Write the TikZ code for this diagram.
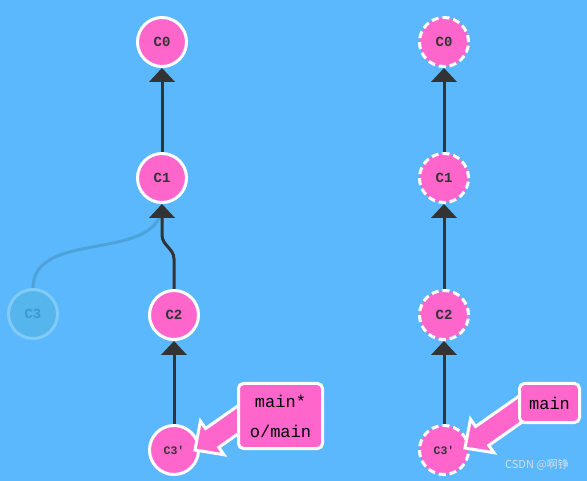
\documentclass[tikz,border=0pt]{standalone}
\usepackage{fontspec}
\setmonofont{Liberation Mono}
\newfontfamily\cjkfont{Noto Sans CJK SC}
\usetikzlibrary{arrows.meta,calc}
\definecolor{sky}      {HTML}{5BB8FC}
\definecolor{ink}      {HTML}{333333}
\definecolor{rose}     {HTML}{FF66CC}
\definecolor{ghostfill}{HTML}{55B5EC}
\definecolor{ghostline}{HTML}{80CBF8}
\definecolor{ghosttext}{HTML}{3E98CE}
\definecolor{ghostedge}{HTML}{4EA2DA}
\definecolor{mark}     {HTML}{D6DEE8}
\pgfdeclarelayer{background}
\pgfdeclarelayer{edges}
\pgfdeclarelayer{front}
\pgfsetlayers{background,edges,main,front}
\tikzset{
  x=1pt, y=1pt,
  % --- nodes
  commit/.style = {circle, draw=white, line width=3pt, fill=rose, minimum size=49pt,
                   inner sep=0pt, text=ink, font=\ttfamily\bfseries\fontsize{14}{14}\selectfont},
  tip/.style    = {commit, font=\ttfamily\bfseries\fontsize{11.5}{12}\selectfont},
  ghost/.style  = {commit, fill=ghostfill, draw=ghostline, text=ghosttext},
  remote/.style = {dash pattern=on 7pt off 4pt},
  branch/.style = {rounded corners=5pt, draw=white, line width=3pt, fill=rose, align=center,
                   inner sep=0pt, text=black, font=\ttfamily\fontsize{17}{30}\selectfont},
  % --- edges
  e/.style      = {draw=ink, line width=3pt, -{Triangle[length=14pt,width=26pt,line width=0pt]}},
  eghost/.style = {draw=ghostedge, line width=3pt},
  fat/.style    = {draw=white, fill=rose, line width=3pt},
}
% fat pointer from a branch label (#1) to its commit (#2)
\newcommand\fatarrow[2]{%
  \draw[fat] let \p1=($(#1)-(#2)$), \n1={atan2(\y1,\x1)} in
    (#2) -- ($(#2)+(\n1:21pt)+(\n1+90:20.5pt)$) -- ($(#2)+(\n1:21pt)+(\n1+90:11.5pt)$)
    -- ($(#1)+(\n1:15pt)+(\n1+90:11.5pt)$) -- ($(#1)+(\n1:15pt)+(\n1-90:11.5pt)$)
    -- ($(#2)+(\n1:21pt)+(\n1-90:11.5pt)$) -- ($(#2)+(\n1:21pt)+(\n1-90:20.5pt)$) -- cycle;}

\begin{document}
\begin{tikzpicture}
  \begin{pgfonlayer}{background}
    \fill[sky] (0,0) rectangle (587,-481);
  \end{pgfonlayer}
  \useasboundingbox (0,0) rectangle (587,-481);

  % local repository
  \node[commit] (c0)  at (162,-42)  {C0};
  \node[commit] (c1)  at (162,-178) {C1};
  \node[commit] (c2)  at (174,-315) {C2};
  \node[tip]    (c3p) at (174,-450) {C3'};
  \node[ghost]  (c3)  at (33,-314)  {C3};

  % remote repository
  \node[commit,remote] (r0) at (444,-42)  {C0};
  \node[commit,remote] (r1) at (444,-178) {C1};
  \node[commit,remote] (r2) at (444,-315) {C2};
  \node[tip,remote]    (r3) at (444,-450) {C3'};

  \begin{pgfonlayer}{edges}
    \draw[eghost] (c3.north) to[out=90,in=-90] (c1.south);
    \draw[e] (c1) -- (c0);
    \draw[e] (c2.north) -- ++(0,30) to[out=90,in=-90] ++(-12,24) -- (c1.south);
    \draw[e] (c3p) -- (c2);
    \draw[e] (r1) -- (r0);
    \draw[e] (r2) -- (r1);
    \draw[e] (r3) -- (r2);
  \end{pgfonlayer}

  \begin{pgfonlayer}{front}
    \node[branch, minimum width=84pt, minimum height=65pt] (local) at (280.5,-416) {main*\\o/main};
    \node[branch, minimum width=60pt, minimum height=39pt] (remote) at (549.5,-403) {main};
  \end{pgfonlayer}
  \coordinate (hitL) at ($(c3p.center)+(21,0)$);
  \coordinate (hitR) at ($(r3.center)+(21,2)$);
  \fatarrow{local.186}{hitL}
  \fatarrow{remote.194}{hitR}

  \node[font=\cjkfont\fontsize{11}{12}\selectfont, text=mark] (wm) at (537,-465) {CSDN @啊铮};
\end{tikzpicture}
\end{document}
